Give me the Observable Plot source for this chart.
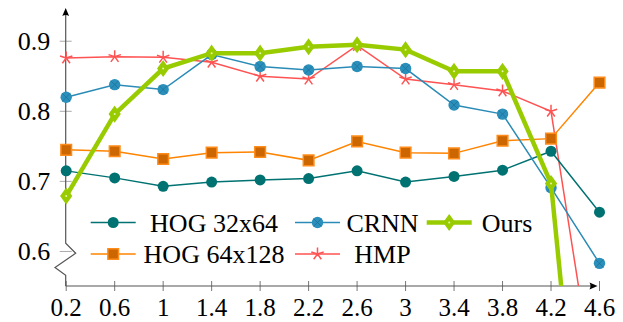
<!DOCTYPE html>
<html><head><meta charset="utf-8">
<script src="https://cdn.jsdelivr.net/npm/d3@7"></script>
<script src="https://cdn.jsdelivr.net/npm/@observablehq/plot@0.6"></script>
<style>
html,body{margin:0;padding:0;background:#fff}
#chart svg, #chart svg text, #chart svg g {font-family: "Liberation Serif", serif !important; font-variant: normal !important; font-variant-numeric: normal !important;}
</style>
</head><body><div id="chart"></div>
<script>
// ---- data ----
const xValues = [0.2, 0.6, 1.0, 1.4, 1.8, 2.2, 2.6, 3.0, 3.4, 3.8, 4.2, 4.6];
const xTickLabels = ["0.2","0.6","1","1.4","1.8","2.2","2.6","3","3.4","3.8","4.2","4.6"];
const yTicks = [0.6, 0.7, 0.8, 0.9];
const yTickLabels = ["0.6","0.7","0.8","0.9"];
const hog32 = [0.715, 0.705, 0.693, 0.699, 0.702, 0.704, 0.715, 0.699, 0.707, 0.716, 0.743, 0.656];
const hog64 = [0.745, 0.743, 0.732, 0.741, 0.742, 0.730, 0.757, 0.741, 0.740, 0.758, 0.761, 0.841];
const crnn  = [0.820, 0.838, 0.831, 0.881, 0.864, 0.859, 0.864, 0.861, 0.809, 0.796, 0.691, 0.583];
const hmp   = [0.876, 0.878, 0.877, 0.870, 0.850, 0.846, 0.894, 0.846, 0.838, 0.829, 0.800, 0.360];
const ours  = [0.679, 0.796, 0.861, 0.883, 0.883, 0.892, 0.895, 0.888, 0.857, 0.857, 0.697, 0.000];
const seriesNames = ["HOG 32x64", "CRNN", "Ours", "HOG 64x128", "HMP"];
const seriesValues = [hog32, crnn, ours, hog64, hmp];

const yMin = 0.55, yMax = 0.9467, xMin = 0.2, xMax = 4.6;
const FONT = "Liberation Serif";

// ---- symbols ----
const starSym = {draw(ctx, size) {
  const r = Math.sqrt(size / Math.PI);
  for (let k = 0; k < 5; k++) {
    const a = k * 2 * Math.PI / 5;
    ctx.moveTo(0, 0); ctx.lineTo(r * Math.sin(a), -r * Math.cos(a));
  }
}};
const diamondSym = {draw(ctx, size) {
  const h = Math.sqrt(2 * size / 0.72) / 2, w = 0.72 * h;
  ctx.moveTo(0, -h); ctx.lineTo(w, 0); ctx.lineTo(0, h); ctx.lineTo(-w, 0); ctx.closePath();
}};
const crossSym = {draw(ctx, size) {
  const r = Math.sqrt(size / Math.PI) * 0.7;
  ctx.moveTo(-r, -r); ctx.lineTo(r, r); ctx.moveTo(r, -r); ctx.lineTo(-r, r);
}};

const style = {
  "HOG 32x64": {color: "#007272", width: 1.5, sym: "circle", r: 5.5, fill: "#007272", stroke: "none"},
  "CRNN": {color: "#2a8bb6", width: 1.5, sym: "circle", r: 5.7, fill: "#2a8fba", stroke: "none", cross: true},
  "Ours": {color: "#99cc00", width: 4.5, sym: diamondSym, r: 4.9, fill: "#99cc00", stroke: "#99cc00", dotCenter: true},
  "HOG 64x128": {color: "#ff8400", width: 1.5, sym: "square", r: 6.0, fill: "#cc6600", stroke: "#ff8c1a"},
  "HMP": {color: "#ff5252", width: 1.5, sym: starSym, r: 6.5, fill: "none", stroke: "#ff5252"}
};

const rows = seriesNames.flatMap((name, i) => xValues.map((x, j) => ({series: name, x, y: seriesValues[i][j]})));
const drawOrder = ["HMP", "HOG 64x128", "HOG 32x64", "CRNN", "Ours"];

// ---- axes (lines + arrows) ----
function axesLines(index, scales) {
  const {x, y} = scales;
  const g = d3.create("svg:g");
  const x0 = x(xMin), y0 = y(yMin), yT = y(yMax), xR = x(xMax) - 1.5, yb = y(0.6);
  g.append("path")
    .attr("d", `M${x0},${y0}V${yb + 24.3}L${x0 - 10.7},${yb + 16.6}L${x0 + 10},${yb + 2.3}L${x0},${yb - 7.7}V${yT + 5}`)
    .attr("fill", "none").attr("stroke", "#555").attr("stroke-width", 1.2);
  g.append("path").attr("d", `M${x0},${y0}H${xR - 5}`)
    .attr("fill", "none").attr("stroke", "#555").attr("stroke-width", 1.2);
  g.append("path").attr("d", `M${x0},${yT}L${x0 + 3.4},${yT + 8}Q${x0},${yT + 6} ${x0 - 3.4},${yT + 8}Z`).attr("fill", "#000");
  g.append("path").attr("d", `M${xR},${y0}L${xR - 8},${y0 - 3.4}Q${xR - 6},${y0} ${xR - 8},${y0 + 3.4}Z`).attr("fill", "#000");
  return g.node();
}

// ---- legend ----
function legendMark() {
  const g = d3.create("svg:g");
  const lineStart = [90.7, 295, 426.7], textCenter = [214, 382.5, 507], rowY = [222.5, 254];
  seriesNames.forEach((name, i) => {
    const s = style[name];
    const row = Math.floor(i / 3), col = i % 3;
    const yy = rowY[row], x1 = lineStart[col], x2 = x1 + 45, xm = (x1 + x2) / 2;
    g.append("line").attr("x1", x1).attr("x2", x2).attr("y1", yy).attr("y2", yy)
      .attr("stroke", s.color).attr("stroke-width", s.width);
    const symType = s.sym === "circle" ? d3.symbolCircle : s.sym === "square" ? d3.symbolSquare : s.sym;
    g.append("path").attr("transform", `translate(${xm},${yy})`)
      .attr("d", d3.symbol(symType, Math.PI * s.r * s.r)())
      .attr("fill", s.fill).attr("stroke", s.stroke).attr("stroke-width", 1.5);
    if (s.cross) g.append("path").attr("transform", `translate(${xm},${yy})`)
      .attr("d", d3.symbol(crossSym, Math.PI * s.r * s.r)()).attr("stroke", "#1d6f96").attr("stroke-width", 0.7).attr("fill", "none");
    if (s.dotCenter) g.append("circle").attr("cx", xm).attr("cy", yy).attr("r", 1).attr("fill", "#e6f5b0");
    g.append("text").attr("x", textCenter[col]).attr("y", yy).attr("dy", "0.35em")
      .attr("text-anchor", "middle").attr("font-size", 26).attr("font-family", FONT).attr("fill", "#000").text(name);
  });
  return g.node();
}

const marks = [
  Plot.axisY({ticks: yTicks, tickFormat: (d, i) => yTickLabels[i], tickSize: 12, dx: 6, tickPadding: 10,
    stroke: "#aaa", fill: "#000", label: null, fontSize: 26, fontVariant: "normal", fontFamily: FONT}),
  Plot.axisX({ticks: xValues, tickFormat: (d, i) => xTickLabels[i], tickSize: 10, dy: -5, tickPadding: 7,
    stroke: "#777", fill: "#000", label: null, fontSize: 25, fontVariant: "normal", fontFamily: FONT}),
  axesLines
];
for (const name of drawOrder) {
  const s = style[name];
  const data = rows.filter(d => d.series === name);
  const vis = data.filter(d => d.y >= yMin);
  marks.push(Plot.line(data, {x: "x", y: "y", stroke: s.color, strokeWidth: s.width, clip: true, strokeLinejoin: "miter", strokeMiterlimit: 4}));
  marks.push(Plot.dot(vis, {x: "x", y: "y", symbol: s.sym, r: s.r, fill: s.fill, stroke: s.stroke, strokeWidth: 1.5}));
  if (s.cross) marks.push(Plot.dot(vis, {x: "x", y: "y", symbol: crossSym, r: s.r, stroke: "#1d6f96", strokeWidth: 0.7, fill: "none"}));
  if (s.dotCenter) marks.push(Plot.dot(vis, {x: "x", y: "y", r: 1, fill: "#e6f5b0", stroke: "none"}));
}
marks.push(legendMark);

const chart = Plot.plot({
  width: 623, height: 322,
  marginLeft: 65.7, marginRight: 24, marginTop: 8, marginBottom: 36,
  x: {domain: [xMin, xMax]},
  y: {domain: [yMin, yMax]},
  style: {fontSize: "26px", fontFamily: FONT, background: "#fff", color: "#000", overflow: "visible"},
  marks
});
d3.select(chart).selectAll("text").attr("font-family", FONT).style("font-variant", "normal");
document.getElementById("chart").appendChild(chart);
</script>
</body></html>
